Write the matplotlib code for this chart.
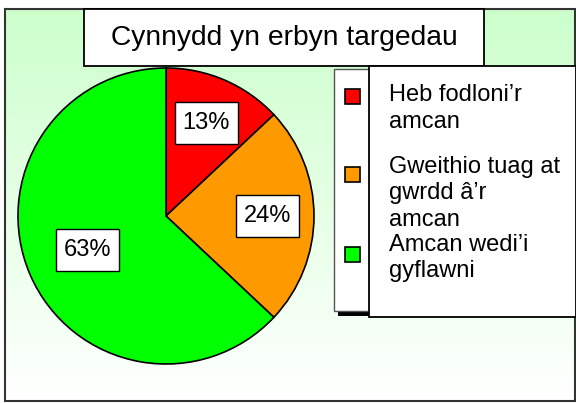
import numpy as np
import matplotlib
matplotlib.use("Agg")
import matplotlib.pyplot as plt
from matplotlib.patches import Rectangle
from matplotlib.path import Path

plt.rcParams['font.family'] = ['Liberation Sans', 'DejaVu Sans']

title = "Cynnydd yn erbyn targedau"
categories = ["Heb fodloni\u2019r\namcan",
              "Gweithio tuag at\ngwrdd \u00e2\u2019r\namcan",
              "Amcan wedi\u2019i\ngyflawni"]
values = [13, 24, 63]
colors = ["#ff0000", "#ff9900", "#00ff00"]

W, H = 576, 403
fig = plt.figure(figsize=(W / 100, H / 100), dpi=100)

# background: frame with light green -> white gradient
bg = fig.add_axes([0, 0, 1, 1], zorder=0)
bg.set_xlim(0, W)
bg.set_ylim(H, 0)
bg.axis('off')
grad = np.linspace(0, 1, 256).reshape(-1, 1)
top = np.array([0.80, 1.0, 0.80])
rgb = top[None, None, :] * (1 - grad[:, :, None]) + np.ones(3)[None, None, :] * grad[:, :, None]
bg.imshow(rgb, extent=[5, 575, 401, 9], aspect='auto', interpolation='bilinear')
bg.add_patch(Rectangle((5, 9), 570, 392, fill=False, edgecolor='#333333', lw=1.5))


def label_box(x0, y0, width, height, mutation_size):
    # rectangle with more padding above/below than left/right
    px, py = 0.32 * mutation_size, 0.42 * mutation_size
    x0, x1 = x0 - px, x0 + width + px
    y0, y1 = y0 - py, y0 + height + py
    return Path([(x0, y0), (x1, y0), (x1, y1), (x0, y1), (x0, y0)], closed=True)


# pie
pax = fig.add_axes([18 / W, (H - 364) / H, 296 / W, 296 / H], zorder=1)
wedges, texts, autotexts = pax.pie(
    values, colors=colors, startangle=90, counterclock=False,
    autopct='%.0f%%', pctdistance=0.685,
    wedgeprops=dict(edgecolor='black', linewidth=1.2),
    textprops=dict(fontsize=17, color='black'))
for w in wedges:
    w.set_clip_on(False)
for t in autotexts:
    t.set_bbox(dict(facecolor='white', edgecolor='black', boxstyle=label_box, lw=1))
# green label sits closer to centre
x, y = autotexts[2].get_position()
autotexts[2].set_position((x * 0.58 / 0.685, y * 0.58 / 0.685))
pax.set_xlim(-1, 1)
pax.set_ylim(-1, 1)

# overlay: title box and legend boxes
ov = fig.add_axes([0, 0, 1, 1], zorder=2)
ov.set_xlim(0, W)
ov.set_ylim(H, 0)
ov.axis('off')
ov.patch.set_alpha(0)

ov.add_patch(Rectangle((84, 9), 400, 57, facecolor='white', edgecolor='black', lw=1.3))
ov.text(284, 38, title, ha='center', va='center', fontsize=20.3)

# legend: shadow, narrow marker box, wide text box
ov.add_patch(Rectangle((338, 310), 32, 6, facecolor='black', edgecolor='none'))
ov.add_patch(Rectangle((334, 69), 36, 242, facecolor='white', edgecolor='#555555', lw=1))
ov.add_patch(Rectangle((369, 66), 207, 251, facecolor='white', edgecolor='black', lw=1.3))

marker_y = [96, 174, 254]
first_baseline = [101, 173, 251]
line_step = 26.5
for lab, col, my, by in zip(categories, colors, marker_y, first_baseline):
    ov.add_patch(Rectangle((345, my - 7.5), 15, 15, facecolor=col, edgecolor='black', lw=1.2))
    for i, line in enumerate(lab.split('\n')):
        ov.text(389, by + i * line_step, line, ha='left', va='baseline', fontsize=17)

fig.savefig('out.png', dpi=100)
